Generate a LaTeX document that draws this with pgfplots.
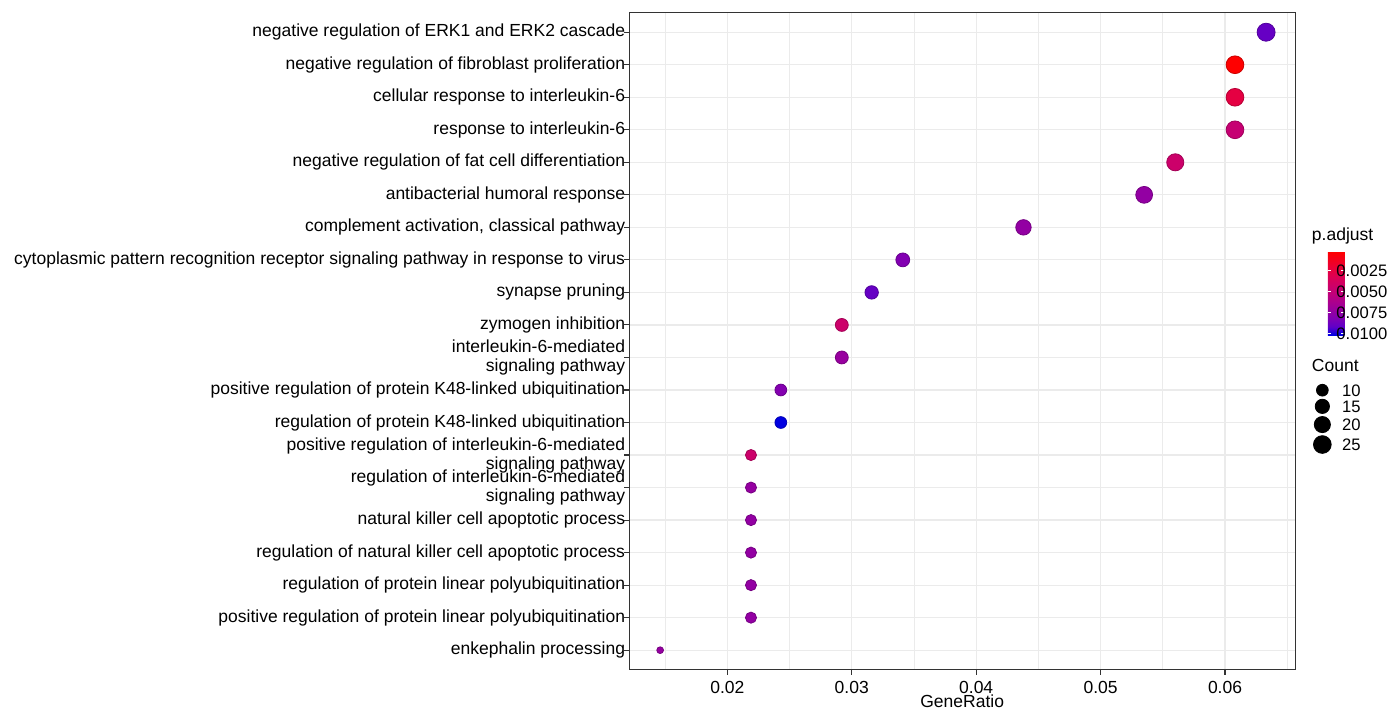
\documentclass[border=0pt]{standalone}
\usepackage{fontspec}
\setmainfont{Liberation Sans}
\usepackage{pgfplots}
\usepackage{pgfplotstable}
\pgfplotsset{compat=1.18}

\definecolor{gray20}{RGB}{51,51,51}
\definecolor{gray92}{RGB}{235,235,235}
\newcommand{\lblfont}{\fontsize{8.75}{9.5}\selectfont}
\newcommand{\legfont}{\fontsize{8.3}{9}\selectfont}

\pgfplotsset{
  colormap={padj}{rgb255=(255,0,0) rgb255=(243,0,29) rgb255=(233,0,58)
    rgb255=(220,0,83) rgb255=(206,0,103) rgb255=(192,0,122) rgb255=(172,0,141)
    rgb255=(151,0,160) rgb255=(127,0,180) rgb255=(95,0,200) rgb255=(0,0,225)},
}

% y = row (1 = bottom), x = GeneRatio, p = p.adjust, count = Count
\pgfplotstableread{
y  x       p        count
20 0.0633  0.0090   26
19 0.0608  0.00028  25
18 0.0608  0.0026   25
17 0.0608  0.0048   25
16 0.0560  0.0044   23
15 0.0535  0.0074   22
14 0.0438  0.0074   18
13 0.0341  0.0081   14
12 0.0316  0.0090   13
11 0.0292  0.0044   12
10 0.0292  0.0072   12
9  0.0243  0.0080   10
8  0.0243  0.0102   10
7  0.0219  0.0044   9
6  0.0219  0.0073   9
5  0.0219  0.0074   9
4  0.0219  0.0074   9
3  0.0219  0.0074   9
2  0.0219  0.0074   9
1  0.0146  0.0073   6
}\godata

\begin{document}
\begin{tikzpicture}
\begin{axis}[
  at={(0,0)}, anchor=south west,
  scale only axis,
  width=332.9pt, height=328.5pt,
  xmin=0.01212, xmax=0.06563,
  ymin=0.4, ymax=20.6,
  clip=false,
  axis line style={gray20, line width=0.55pt},
  /pgf/number format/.cd, fixed, fixed zerofill, precision=4, assume math mode=true,
  /pgfplots/.cd,
  xtick={0.02,0.03,0.04,0.05,0.06},
  xticklabels={0.02,0.03,0.04,0.05,0.06},
  minor xtick={0.015,0.025,0.035,0.045,0.055,0.065},
  scaled x ticks=false,
  ytick={1,...,20},
  yticklabels={
    enkephalin processing,
    positive regulation of protein linear polyubiquitination,
    regulation of protein linear polyubiquitination,
    regulation of natural killer cell apoptotic process,
    natural killer cell apoptotic process,
    {regulation of interleukin-6-mediated\\signaling pathway},
    {positive regulation of interleukin-6-mediated\\signaling pathway},
    regulation of protein K48-linked ubiquitination,
    positive regulation of protein K48-linked ubiquitination,
    {interleukin-6-mediated\\signaling pathway},
    zymogen inhibition,
    synapse pruning,
    cytoplasmic pattern recognition receptor signaling pathway in response to virus,
    {complement activation, classical pathway},
    antibacterial humoral response,
    negative regulation of fat cell differentiation,
    response to interleukin-6,
    cellular response to interleukin-6,
    negative regulation of fibroblast proliferation,
    negative regulation of ERK1 and ERK2 cascade},
  xtick pos=bottom, ytick pos=left,
  tick align=outside,
  major tick length=2.5pt, minor tick length=0pt,
  major tick style={gray20, line width=0.55pt},
  xmajorgrids, xminorgrids, ymajorgrids,
  major grid style={gray92, line width=0.6pt},
  minor grid style={gray92, line width=0.35pt},
  tick label style={font=\lblfont, text=black},
  xticklabel style={anchor=north, inner sep=0pt, text height=6.3pt, text depth=0pt},
  xticklabel shift=3.0pt,
  yticklabel style={align=right, inner sep=0pt},
  yticklabel shift=-0.6pt,
  xlabel={GeneRatio},
  xlabel style={at={(axis description cs:0.5,0)}, anchor=center, yshift=-16.0pt, font=\lblfont},
  colormap name=padj,
  point meta min=0.00028, point meta max=0.0102,
  colorbar,
  colorbar style={
    at={(parent axis.north east)}, anchor=north west,
    xshift=7.85pt, yshift=-119.5pt,
    scale only axis,
    width=8.3pt, height=41.7pt,
    y dir=reverse,
    ytick={0.0025,0.005,0.0075,0.01},
    yticklabel={\pgfmathprintnumber[fixed,fixed zerofill,precision=4,assume math mode=true]{\tick}},
    scaled y ticks=false,
    axis line style={draw=none},
    ytick pos=both, yticklabel pos=right,
    tick align=inside, major tick length=1.6pt,
    major tick style={white, line width=0.6pt},
    yticklabel style={anchor=west, inner sep=0pt, xshift=-4.2pt,
      text height=6.0pt, text depth=0pt, font=\legfont},
  },
  legend image code/.code={\draw[#1] plot coordinates {(0pt,0pt)};},
  legend cell align=left,
  legend style={at={(1,1)}, anchor=north west, xshift=9.2pt, yshift=-185.75pt,
    draw=none, fill=none, inner sep=0pt, outer sep=0pt,
    row sep=1.5pt, column sep=5.5pt, font=\legfont,
    nodes={inner sep=0pt, text height=6.0pt, text depth=0pt}},
]
\addplot[scatter, only marks, mark=*, forget plot,
  point meta=explicit,
  visualization depends on={\thisrow{count} \as \cnt},
  scatter/@pre marker code/.append code={%
    \pgfmathsetmacro{\rad}{0.5625*(3+5*sqrt((\cnt-6)/20))}%
    \pgfsetplotmarksize{\rad pt}},
] table[x=x, y=y, meta=p] {\godata};

\addlegendimage{only marks, mark=*, black, mark size=2.945pt}
\addlegendentry{10}
\addlegendimage{only marks, mark=*, black, mark size=3.574pt}
\addlegendentry{15}
\addlegendimage{only marks, mark=*, black, mark size=4.040pt}
\addlegendentry{20}
\addlegendimage{only marks, mark=*, black, mark size=4.429pt}
\addlegendentry{25}

\node[anchor=base west, font=\lblfont, inner sep=0pt] at (rel axis cs:1,1)
  [xshift=8.25pt, yshift=-114pt] {p.adjust};
\node[anchor=base west, font=\lblfont, inner sep=0pt] at (rel axis cs:1,1)
  [xshift=8.25pt, yshift=-179.5pt] {Count};
\end{axis}
\pgfresetboundingbox
\useasboundingbox (-314.65pt,-19.5pt) rectangle (379.85pt,334.85pt);
\end{tikzpicture}
\end{document}
